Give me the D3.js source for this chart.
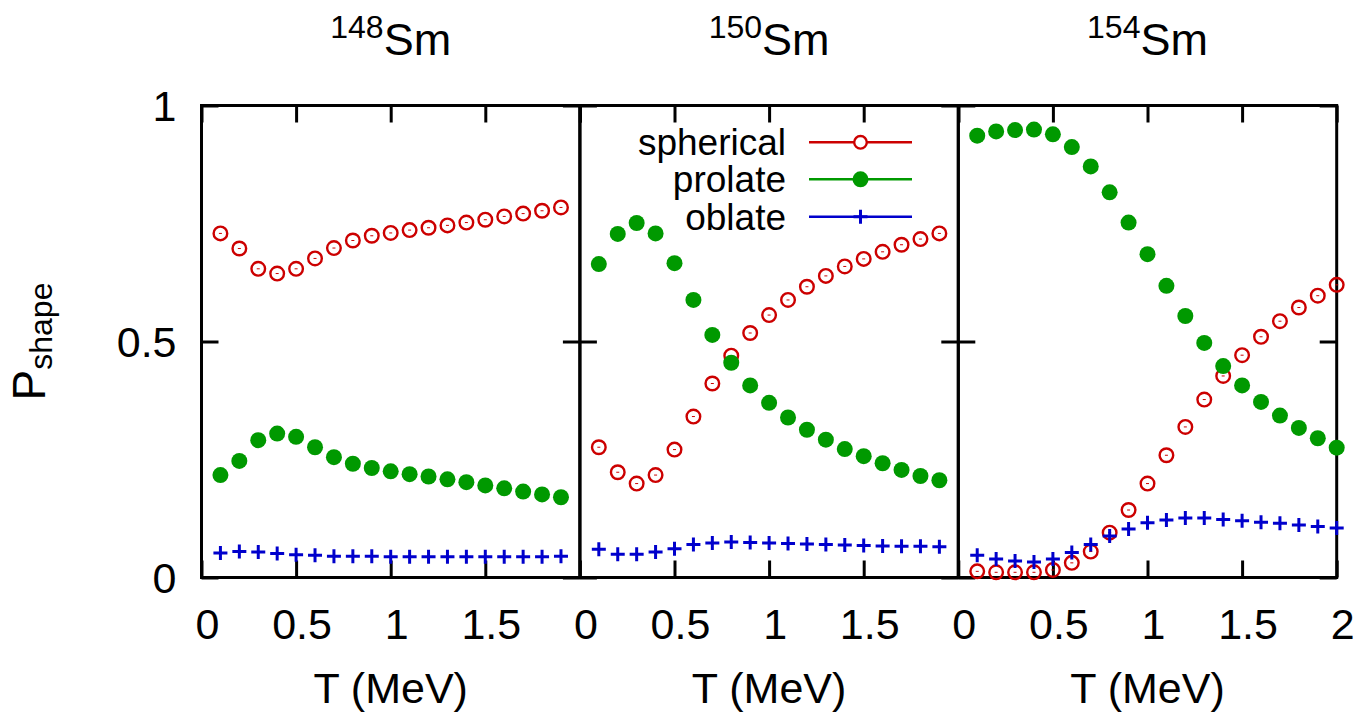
<!DOCTYPE html>
<html><head><meta charset="utf-8">
<script src="https://cdn.jsdelivr.net/npm/d3@7"></script>
<style>
html,body{margin:0;padding:0;background:#fff;}
svg{display:block;font-family:"Liberation Sans",Arial,Helvetica,sans-serif;}
</style></head>
<body>
<svg id="chart" width="1357" height="712"></svg>
<script>
// ---- data ----
const T19 = [0.1,0.2,0.3,0.4,0.5,0.6,0.7,0.8,0.9,1.0,1.1,1.2,1.3,1.4,1.5,1.6,1.7,1.8,1.9];
const T20 = [0.1,0.2,0.3,0.4,0.5,0.6,0.7,0.8,0.9,1.0,1.1,1.2,1.3,1.4,1.5,1.6,1.7,1.8,1.9,2.0];

const sm148Spherical = [0.729,0.697,0.654,0.644,0.654,0.676,0.698,0.714,0.724,0.730,0.736,0.741,0.746,0.752,0.758,0.765,0.771,0.777,0.784];
const sm148Prolate   = [0.217,0.247,0.291,0.305,0.298,0.276,0.255,0.241,0.232,0.225,0.219,0.214,0.208,0.202,0.195,0.189,0.182,0.176,0.170];
const sm148Oblate    = [0.052,0.055,0.054,0.051,0.048,0.047,0.045,0.045,0.045,0.044,0.044,0.044,0.044,0.044,0.044,0.044,0.044,0.044,0.045];

const sm150Spherical = [0.276,0.223,0.199,0.217,0.271,0.341,0.411,0.470,0.518,0.556,0.588,0.616,0.639,0.659,0.675,0.690,0.705,0.717,0.729];
const sm150Prolate   = [0.664,0.728,0.751,0.729,0.666,0.588,0.514,0.455,0.407,0.370,0.339,0.313,0.292,0.272,0.257,0.242,0.228,0.215,0.206];
const sm150Oblate    = [0.060,0.049,0.049,0.054,0.061,0.070,0.073,0.075,0.074,0.073,0.072,0.071,0.070,0.069,0.068,0.067,0.066,0.066,0.065];

const sm154Spherical = [0.013,0.011,0.011,0.011,0.016,0.031,0.055,0.095,0.143,0.199,0.259,0.319,0.377,0.427,0.471,0.510,0.543,0.572,0.597,0.620];
const sm154Prolate   = [0.936,0.945,0.948,0.949,0.939,0.912,0.871,0.816,0.752,0.685,0.618,0.554,0.497,0.448,0.407,0.372,0.343,0.317,0.295,0.275];
const sm154Oblate    = [0.047,0.039,0.035,0.033,0.039,0.053,0.070,0.088,0.103,0.116,0.122,0.126,0.126,0.123,0.120,0.117,0.115,0.111,0.108,0.105];

const massNumbers = ["148","150","154"];
const seriesNames = ["spherical","prolate","oblate"];
const xTickValuesShort = [0,0.5,1,1.5];
const xTickValuesFull  = [0,0.5,1,1.5,2];
const yTickValues = [0,0.5,1];
const xLabel = "T (MeV)";
const yLabelMain = "P", yLabelSub = "shape";

// ---- assemble ----
const panels = [
  {mass:massNumbers[0], T:T19, data:[sm148Spherical,sm148Prolate,sm148Oblate], xt:xTickValuesShort},
  {mass:massNumbers[1], T:T19, data:[sm150Spherical,sm150Prolate,sm150Oblate], xt:xTickValuesShort},
  {mass:massNumbers[2], T:T20, data:[sm154Spherical,sm154Prolate,sm154Oblate], xt:xTickValuesFull}
];

const colors = ["#cc0000","#009900","#0000cc"];
const left0 = 201.5, pw = 378.4, plotTop = 105.5, plotBottom = 577.5;
const tickLen = 17, fs = 43;

const svg = d3.select("#chart");
const y = d3.scaleLinear().domain([0,1]).range([plotBottom, plotTop]);

function marker(g, type, cx, cy, color){
  if(type===0){
    g.append("circle").attr("cx",cx).attr("cy",cy).attr("r",6.8)
      .attr("fill","none").attr("stroke",color).attr("stroke-width",2.4);
    g.append("line").attr("x1",cx-1.5).attr("x2",cx+1.5).attr("y1",cy).attr("y2",cy)
      .attr("stroke",color).attr("stroke-width",1);
  } else if(type===1){
    g.append("circle").attr("cx",cx).attr("cy",cy).attr("r",8).attr("fill",color);
  } else {
    g.append("path").attr("d",`M${cx-7},${cy}H${cx+7}M${cx},${cy-7}V${cy+7}`)
      .attr("stroke",color).attr("stroke-width",3).attr("fill","none");
  }
}

panels.forEach((p,i)=>{
  const x0 = left0 + i*pw;
  const x = d3.scaleLinear().domain([0,2]).range([x0, x0+pw]);
  const g = svg.append("g");

  // axes (inward ticks)
  const axB = g.append("g").attr("transform",`translate(0,${plotBottom})`)
    .call(d3.axisBottom(x).tickValues(p.xt).tickSize(-tickLen).tickFormat(d3.format("")));
  axB.selectAll("text").attr("dy",null).attr("y",61.5).attr("dx",5.5)
    .attr("font-size",fs).attr("font-family","Liberation Sans, Arial, sans-serif").attr("fill","#000");
  const axT = g.append("g").attr("transform",`translate(0,${plotTop})`)
    .call(d3.axisTop(x).tickValues(xTickValuesFull).tickSize(-tickLen).tickFormat(""));
  const axL = g.append("g").attr("transform",`translate(${x0},0)`)
    .call(d3.axisLeft(y).tickValues(yTickValues).tickSize(-tickLen).tickFormat(i===0?d3.format(""):""));
  axL.selectAll("text").attr("dy",null).attr("x",-25).attr("y",15)
    .attr("font-size",fs).attr("font-family","Liberation Sans, Arial, sans-serif").attr("fill","#000");
  const axR = g.append("g").attr("transform",`translate(${x0+pw},0)`)
    .call(d3.axisRight(y).tickValues(yTickValues).tickSize(-tickLen).tickFormat(""));
  [axB,axT,axL,axR].forEach(a=>{
    a.select(".domain").remove();
    a.selectAll(".tick line").attr("stroke","#000").attr("stroke-width",3);
  });

  // frame
  g.append("rect").attr("x",x0).attr("y",plotTop).attr("width",pw).attr("height",plotBottom-plotTop)
    .attr("fill","none").attr("stroke","#000").attr("stroke-width",3);

  // title
  const t = g.append("text").attr("x",(x0+x0+pw)/2).attr("y",55).attr("text-anchor","middle")
    .attr("font-size",45).attr("fill","#000");
  t.append("tspan").attr("font-size",32).attr("dy",-17).text(p.mass);
  t.append("tspan").attr("dy",17).text("Sm");

  // x label
  g.append("text").attr("x",(x0+x0+pw)/2).attr("y",703).attr("text-anchor","middle")
    .attr("font-size",fs).attr("fill","#000").text(xLabel);

  // data
  p.data.forEach((vals,k)=>{
    const mg = g.append("g");
    vals.forEach((v,j)=> marker(mg, k, x(p.T[j]), y(v), colors[k]));
  });
});

// y label
const yl = svg.append("text").attr("transform",`translate(45,${y(0.5)}) rotate(-90)`)
  .attr("text-anchor","middle").attr("font-size",46).attr("fill","#000");
yl.append("tspan").text(yLabelMain);
yl.append("tspan").attr("font-size",32).attr("dy",7).text(yLabelSub);

// legend in panel 2
const legRows = [142.3,179.3,216.7];
const lg = svg.append("g");
seriesNames.forEach((name,k)=>{
  lg.append("text").attr("x",786).attr("y",legRows[k]+13).attr("text-anchor","end")
    .attr("font-size",37).attr("fill","#000").text(name);
  lg.append("line").attr("x1",809).attr("x2",912).attr("y1",legRows[k]).attr("y2",legRows[k])
    .attr("stroke",colors[k]).attr("stroke-width",2.6);
  const mg = lg.append("g");
  if(k===0){
    mg.append("circle").attr("cx",860.5).attr("cy",legRows[k]).attr("r",6.3)
      .attr("fill","#fff").attr("stroke",colors[k]).attr("stroke-width",2.4);
  } else marker(mg,k,860.5,legRows[k],colors[k]);
});
</script>
</body></html>
